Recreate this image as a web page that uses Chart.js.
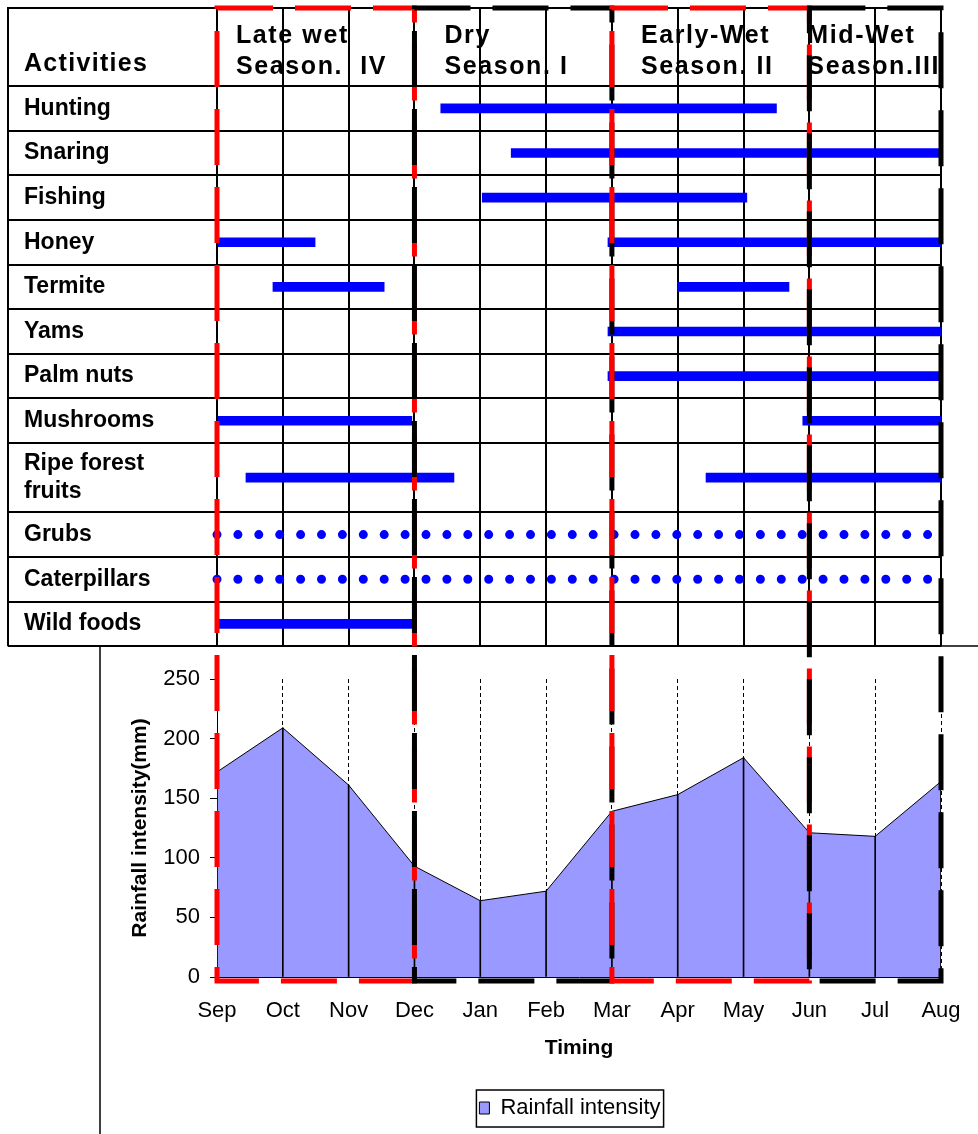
<!DOCTYPE html>
<html>
<head>
<meta charset="utf-8">
<script src="https://cdn.jsdelivr.net/npm/chart.js@4.4.1/dist/chart.umd.min.js"></script>
<style>
  html, body { margin: 0; padding: 0; background: #fff; overflow: hidden; }
  #wrap { position: relative; width: 978px; height: 1134px; overflow: hidden; }
  canvas { position: absolute; left: 0; top: 0; }
  #tableChart { z-index: 1; }
  #rainChart { z-index: 2; }
</style>
</head>
<body>
<div id="wrap">
  <canvas id="tableChart" width="978" height="660"></canvas>
  <canvas id="rainChart" width="1140" height="1134"></canvas>
</div>
<script>
// ---- data ----
const months = ['Sep', 'Oct', 'Nov', 'Dec', 'Jan', 'Feb', 'Mar', 'Apr', 'May', 'Jun', 'Jul', 'Aug'];
const rainfall = [172, 209, 161, 93, 64, 72, 139, 153, 184, 121, 118, 164];
const rainTicks = [0, 50, 100, 150, 200, 250];

const rowHeaderTitle = 'Activities';
const activities = ['Hunting', 'Snaring', 'Fishing', 'Honey', 'Termite', 'Yams', 'Palm nuts',
  'Mushrooms', ['Ripe forest', 'fruits'], 'Grubs', 'Caterpillars', 'Wild foods'];
// month positions (0 = Sep ... 11 = Aug)
const firstSpan = [[3.4, 8.5], [4.47, 11], [4.03, 8.05], [0, 1.49], [0.85, 2.54], [5.94, 11], [5.94, 11],
  [0, 2.96], [0.44, 3.6], null, null, [0, 2.96]];
const secondSpan = [null, null, null, [5.94, 11], [7.0, 8.69], null, null,
  [8.9, 11], [7.43, 11], null, null, null];
const dottedSpan = [null, null, null, null, null, null, null, null, null, [0, 10.83], [0, 10.83], null];

const seasonNames = [['Late wet', 'Season.  IV'], ['Dry', 'Season. I'], ['Early-Wet', 'Season. II'], ['Mid-Wet', 'Season.III']];
const seasonBounds = [0, 3, 6, 9, 11];

// ---- layout / style ----
const TABLE_LEFT = 8, TABLE_TOP = 8, LABEL_X = 24;
const GRID_LEFT = 217, GRID_RIGHT = 941, HEADER_H = 78, TABLE_BOTTOM = 648;
const FRAME_LEFT = 100, FRAME_TOP = 646;
const RAIN_CANVAS_W = 1140;
const seasonColors = ['#ff0000', '#000000', '#ff0000', '#000000'];
const headerIndent = [19, 30, 29, -2];
const BLUE = '#0000ff';

Chart.defaults.font.family = '"Liberation Sans", Arial, sans-serif';
Chart.defaults.color = '#000';

// row geometry: two-line labels get a taller row
const rowUnits = activities.map(a => Array.isArray(a) ? 1.55 : 1);
const rowEdges = rowUnits.reduce((acc, u) => { acc.push(acc[acc.length - 1] + u); return acc; }, [0]);
const rowMid = rowUnits.map((u, i) => rowEdges[i] + u / 2);
const totalUnits = rowEdges[rowEdges.length - 1];

function spanPoints(spans) {
  return spans.map((s, i) => s ? { x: s, y: rowMid[i] } : null).filter(Boolean);
}

const tableDatasets = [
  { data: spanPoints(firstSpan), backgroundColor: BLUE, barThickness: 9, grouped: false, clip: false },
  { data: spanPoints(secondSpan), backgroundColor: BLUE, barThickness: 9, grouped: false, clip: false }
];
dottedSpan.forEach((s, i) => {
  if (!s) return;
  tableDatasets.push({
    type: 'line',
    data: [{ x: s[0], y: rowMid[i] }, { x: s[1], y: rowMid[i] }],
    borderColor: BLUE,
    borderWidth: 9,
    borderDash: [0, 20.9],
    borderCapStyle: 'round',
    pointRadius: 0,
    fill: false,
    clip: false
  });
});

const tableFrame = {
  id: 'tableFrame',
  afterDraw(chart) {
    const { ctx, chartArea } = chart;
    const x = chart.scales.x;
    ctx.save();
    ctx.strokeStyle = '#000';
    ctx.lineWidth = 2;
    ctx.beginPath();
    ctx.moveTo(TABLE_LEFT, chartArea.bottom);
    ctx.lineTo(TABLE_LEFT, TABLE_TOP);
    ctx.lineTo(chartArea.right, TABLE_TOP);
    ctx.stroke();

    ctx.fillStyle = '#000';
    ctx.font = 'bold 25px "Liberation Sans", Arial, sans-serif';
    ctx.letterSpacing = '1.3px';
    ctx.textBaseline = 'alphabetic';
    ctx.fillText(rowHeaderTitle, LABEL_X, 71);
    ctx.letterSpacing = '1.6px';
    seasonNames.forEach((lines, i) => {
      const left = x.getPixelForValue(seasonBounds[i]) + headerIndent[i];
      lines.forEach((t, j) => ctx.fillText(t, left, 43 + j * 31));
    });
    ctx.restore();
  }
};

new Chart(document.getElementById('tableChart'), {
  type: 'bar',
  data: { datasets: tableDatasets },
  options: {
    responsive: false,
    animation: false,
    indexAxis: 'y',
    layout: { padding: { left: LABEL_X, right: 978 - GRID_RIGHT, top: TABLE_TOP, bottom: 660 - TABLE_BOTTOM } },
    plugins: { legend: { display: false }, tooltip: { enabled: false } },
    scales: {
      x: {
        type: 'linear', position: 'top', min: 0, max: months.length - 1, offset: false,
        afterBuildTicks: s => { s.ticks = months.map((m, i) => ({ value: i })); },
        ticks: { display: false },
        grid: { color: '#000', lineWidth: 2, tickLength: HEADER_H, tickColor: '#000', tickWidth: 2, offset: false },
        border: { display: true, color: '#000', width: 2 },
        afterFit: s => { s.height = HEADER_H; }
      },
      y: {
        type: 'linear', position: 'left', weight: 0, reverse: true, min: 0, max: totalUnits, offset: false,
        afterBuildTicks: s => { s.ticks = rowEdges.map(v => ({ value: v })); },
        ticks: { display: false },
        grid: { color: '#000', lineWidth: 2, tickLength: GRID_LEFT - TABLE_LEFT, tickColor: '#000', tickWidth: 2, offset: false },
        border: { display: false },
        afterFit: s => { s.width = 0; }
      },
      rows: {
        type: 'linear', position: 'left', weight: 1, reverse: true, min: 0, max: totalUnits, offset: false,
        afterBuildTicks: s => { s.ticks = rowMid.map(v => ({ value: v })); },
        ticks: {
          autoSkip: false, crossAlign: 'far', padding: 0, color: '#000',
          font: { size: 23, weight: 'bold' },
          callback: (v, i) => activities[i]
        },
        grid: { display: false, offset: false },
        border: { display: false },
        afterFit: s => { s.width = GRID_LEFT - LABEL_X; }
      }
    }
  },
  plugins: [tableFrame]
});

const rainDecor = {
  id: 'rainDecor',
  beforeDraw(chart) {
    const { ctx } = chart;
    ctx.save();
    ctx.strokeStyle = '#000';
    ctx.lineWidth = 1.5;
    ctx.beginPath();
    ctx.moveTo(FRAME_LEFT, chart.height);
    ctx.lineTo(FRAME_LEFT, FRAME_TOP);
    ctx.lineTo(chart.width, FRAME_TOP);
    ctx.stroke();
    ctx.restore();
  },
  afterDraw(chart) {
    const { ctx } = chart;
    const x = chart.scales.x, y = chart.scales.y;
    ctx.save();
    const hb = chart.legend.legendHitBoxes[0];
    if (hb) {
      ctx.strokeStyle = '#000';
      ctx.lineWidth = 1.5;
      ctx.strokeRect(hb.left - 3, hb.top - 7, hb.width + 6, hb.height + 15);
    }
    const bottom = y.getPixelForValue(0) + 4;
    ctx.lineWidth = 5;
    ctx.setLineDash([56, 22]);
    seasonNames.forEach((_, i) => {
      const x0 = x.getPixelForValue(seasonBounds[i]);
      const x1 = x.getPixelForValue(seasonBounds[i + 1]);
      ctx.strokeStyle = seasonColors[i];
      ctx.strokeRect(x0, TABLE_TOP, x1 - x0, bottom - TABLE_TOP);
    });
    ctx.restore();
  }
};

new Chart(document.getElementById('rainChart'), {
  type: 'line',
  data: {
    labels: months,
    datasets: [
      {
        label: 'Rainfall intensity', data: rainfall,
        borderColor: '#000', borderWidth: 1, backgroundColor: '#9999ff',
        fill: 'origin', pointRadius: 0, tension: 0, order: 2
      },
      {
        type: 'bar', label: 'drop lines', data: rainfall,
        backgroundColor: '#000', barThickness: 1, order: 1
      }
    ]
  },
  options: {
    responsive: false,
    animation: false,
    layout: { padding: { top: 679, left: 0, right: 0, bottom: 5 } },
    plugins: {
      legend: {
        position: 'bottom',
        labels: {
          filter: item => item.datasetIndex === 0,
          boxWidth: 10, boxHeight: 12, color: '#000', font: { size: 22 }
        }
      },
      tooltip: { enabled: false }
    },
    scales: {
      x: {
        type: 'category', offset: false,
        grid: { color: '#000', lineWidth: 1, drawTicks: false, offset: false },
        border: { display: true, color: '#000', width: 1, dash: [4, 3] },
        ticks: { font: { size: 22 }, color: '#000', padding: 21, maxRotation: 0, autoSkip: false },
        title: { display: true, text: 'Timing', color: '#000', font: { size: 21, weight: 'bold' }, padding: { top: 0, bottom: 26 } },
        afterFit: s => { s.height = 110; }
      },
      y: {
        type: 'linear', min: rainTicks[0], max: rainTicks[rainTicks.length - 1],
        afterBuildTicks: s => { s.ticks = rainTicks.map(v => ({ value: v })); },
        ticks: { font: { size: 22 }, color: '#000', padding: 10 },
        grid: { drawOnChartArea: false, drawTicks: true, tickLength: 7, color: '#000' },
        border: { display: true, color: '#000', width: 1 },
        title: { display: true, text: 'Rainfall intensity(mm)', color: '#000', font: { size: 21, weight: 'bold' }, padding: { top: 128, bottom: 0 } },
        afterFit: s => { s.width = GRID_LEFT; }
      },
      pad: {
        type: 'linear', position: 'right', display: true,
        ticks: { display: false }, grid: { display: false }, border: { display: false },
        afterFit: s => { s.width = RAIN_CANVAS_W - GRID_RIGHT; }
      }
    }
  },
  plugins: [rainDecor]
});
</script>
</body>
</html>
